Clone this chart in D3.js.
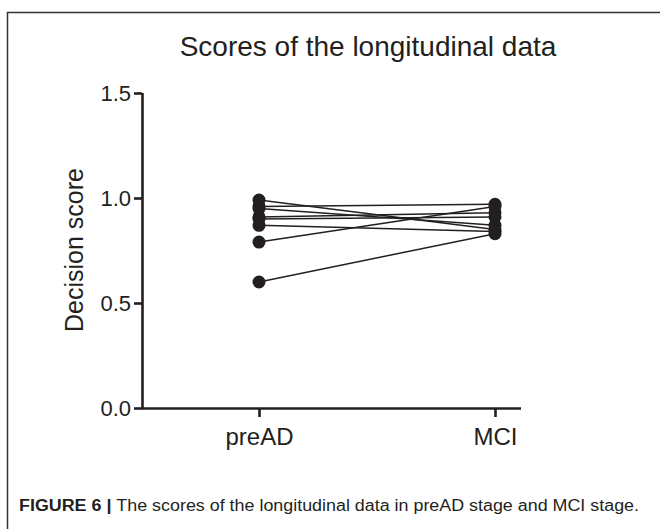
<!DOCTYPE html>
<html>
<head>
<meta charset="utf-8">
<script src="https://cdn.jsdelivr.net/npm/d3@7"></script>
<style>
  body { margin: 0; background: #fff; }
  text { font-family: "Liberation Sans", Arial, sans-serif; fill: #231f20; }
</style>
</head>
<body>
<div id="chart"></div>
<script>
// data
const stages = ["preAD", "MCI"];
const preAD = [0.99, 0.96, 0.95, 0.91, 0.9, 0.87, 0.79, 0.6];
const mci = [0.85, 0.97, 0.87, 0.93, 0.91, 0.84, 0.96, 0.83];
const yTicks = [0.0, 0.5, 1.0, 1.5];

const width = 660;
const height = 529;

const svg = d3
  .select("#chart")
  .append("svg")
  .attr("width", width)
  .attr("height", height);

// figure frame (top and left edge only visible)
svg
  .append("path")
  .attr("d", "M7.5," + height + "V12.5H" + width)
  .attr("fill", "none")
  .attr("stroke", "#333")
  .attr("stroke-width", 1.5);

const x = d3.scalePoint().domain(stages).range([259, 495]);
const y = d3.scaleLinear().domain([0, 1.5]).range([408, 93]);

// axes
const yAxis = d3
  .axisLeft(y)
  .tickValues(yTicks)
  .tickSize(8)
  .tickSizeOuter(0)
  .tickPadding(3)
  .tickFormat(d3.format(".1f"));

const xAxis = d3.axisBottom(x).tickSize(9).tickSizeOuter(0).tickPadding(11);

const gy = svg
  .append("g")
  .attr("transform", "translate(142,0)")
  .call(yAxis);

const gx = svg
  .append("g")
  .attr("transform", "translate(0,408)")
  .call(xAxis);

gx.select(".domain").attr("d", "M142,0.5H521");

[gx, gy].forEach((g) => {
  g.selectAll("path, line")
    .attr("stroke", "#231f20")
    .attr("stroke-width", 2.6);
  g.selectAll("text")
    .attr("font-family", "Liberation Sans, Arial, sans-serif")
    .attr("fill", "#231f20");
});
gy.selectAll("text").attr("font-size", 22);
gx.selectAll("text").attr("font-size", 24);
gy.select(".domain").attr("d", "M0.5,93V409");

// paired lines
const pairs = preAD.map((d, i) => [d, mci[i]]);
svg
  .append("g")
  .selectAll("line")
  .data(pairs)
  .join("line")
  .attr("x1", x("preAD"))
  .attr("y1", (d) => y(d[0]))
  .attr("x2", x("MCI"))
  .attr("y2", (d) => y(d[1]))
  .attr("stroke", "#231f20")
  .attr("stroke-width", 1.5);

// points
const pts = [];
preAD.forEach((v) => pts.push({ s: "preAD", v: v }));
mci.forEach((v) => pts.push({ s: "MCI", v: v }));
svg
  .append("g")
  .selectAll("circle")
  .data(pts)
  .join("circle")
  .attr("cx", (d) => x(d.s))
  .attr("cy", (d) => y(d.v))
  .attr("r", 6.5)
  .attr("fill", "#231f20");

// title
svg
  .append("text")
  .attr("x", 368)
  .attr("y", 56)
  .attr("text-anchor", "middle")
  .attr("font-size", 28)
  .text("Scores of the longitudinal data");

// y label
svg
  .append("text")
  .attr("transform", "translate(83,250) rotate(-90)")
  .attr("text-anchor", "middle")
  .attr("font-size", 25)
  .text("Decision score");

// caption
const cap = svg
  .append("text")
  .attr("x", 19)
  .attr("y", 511)
  .attr("font-size", 16)
  .attr("textLength", 620)
  .attr("lengthAdjust", "spacingAndGlyphs");
cap.append("tspan").attr("font-weight", "bold").text("FIGURE 6 | ");
cap.append("tspan").text("The scores of the longitudinal data in preAD stage and MCI stage.");
</script>
</body>
</html>
